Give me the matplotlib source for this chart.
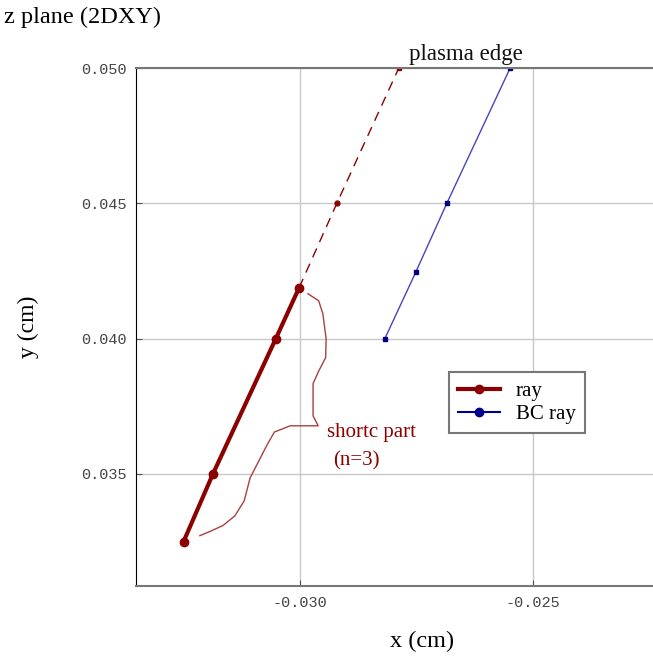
import matplotlib.pyplot as plt

# ray points (solid part, then the dashed part out to the plasma edge)
ray_x = [-0.0325, -0.03187, -0.03052, -0.03002]
ray_y = [0.0325, 0.0350, 0.0400, 0.04188]
ext_x = [-0.03002, -0.02921, -0.02788]
ext_y = [0.04188, 0.0450, 0.0500]

# BC ray
bc_x = [-0.02818, -0.02751, -0.02685, -0.02549]
bc_y = [0.0400, 0.04248, 0.0450, 0.0500]

# hand-drawn brace marking the short part
brace_x = [-0.02983, -0.02960, -0.02951, -0.02944, -0.02945, -0.02960, -0.02972,
           -0.02972, -0.02961, -0.03021, -0.03055, -0.03070, -0.03107,
           -0.03120, -0.03140, -0.03165, -0.03190, -0.03215]
brace_y = [0.04166, 0.04140, 0.04092, 0.04000, 0.03930, 0.03880, 0.03834,
           0.03715, 0.03678, 0.03678, 0.03655, 0.03610, 0.03486,
           0.03400, 0.03345, 0.03310, 0.03290, 0.03272]

xticks = [-0.030, -0.025]
yticks = [0.035, 0.040, 0.045, 0.050]

serif = 'Liberation Serif'
dred = '#8b0000'

f = plt.figure(figsize=(6.53, 6.56), dpi=100)
ax = f.add_axes([0.2083, 0.1067, 0.7963, 0.7896])

ax.set_xlim(-0.03352, -0.02236)
ax.set_ylim(0.03086, 0.050)
ax.set_xticks(xticks)
ax.set_yticks(yticks)
ax.set_xticklabels(['%.3f' % v for v in xticks])
ax.set_yticklabels(['%.3f' % v for v in yticks])
ax.tick_params(direction='in', length=4, colors='#555555', labelsize=11, pad=7)
for lab in ax.get_xticklabels() + ax.get_yticklabels():
    lab.set_family('Liberation Mono')
    lab.set_color('#444444')
ax.grid(True, color='#c8c8c8', linewidth=1)
ax.set_axisbelow(True)

ax.spines['right'].set_visible(False)
ax.spines['left'].set_color('black')
ax.spines['top'].set_color('#777777')
ax.spines['bottom'].set_color('#777777')
ax.spines['top'].set_linewidth(1.5)
ax.spines['bottom'].set_linewidth(1.5)

# plot
ax.plot(ext_x, ext_y, color=dred, linestyle=(0, (7, 5)), linewidth=1,
        marker='o', markersize=3.5, markevery=[1])
ax.plot(ext_x[-1:], ext_y[-1:], color=dred, marker='s', markersize=3, linewidth=0)
ax.plot(ray_x, ray_y, color=dred, linewidth=3, marker='o', markersize=6,
        label='ray')
ax.plot(bc_x, bc_y, color='#4646b8', linewidth=1, marker='s', markersize=3.5,
        markerfacecolor='#00007f', markeredgecolor='#00007f')
ax.plot([], [], color='#00008b', linewidth=1.5, marker='o', markersize=6,
        label='BC ray')
ax.plot(brace_x, brace_y, color='#a84040', linewidth=1)

ax.text(-0.02942, 0.03653, 'shortc part', family=serif, fontsize=15,
        color=dred, va='center')
ax.text(-0.02929, 0.03549, '(n=3)', family=serif, fontsize=15,
        color=dred, va='center')
ax.text(-0.02644, 0.0501, 'plasma edge', family=serif, fontsize=16.5,
        color='#111111', ha='center', va='bottom')

leg = ax.legend(loc='lower left', bbox_to_anchor=(0.602, 0.295),
                borderaxespad=0, prop={'family': serif, 'size': 15},
                fancybox=False, framealpha=1, edgecolor='#777777',
                borderpad=0.45, handlelength=2.0, labelspacing=0.15,
                handletextpad=0.75)
leg.get_frame().set_linewidth(1.5)

ax.set_xlabel('x (cm)', family=serif, fontsize=17.5)
ax.xaxis.set_label_coords(0.55, -0.087)
ax.set_ylabel('y (cm)', family=serif, fontsize=17, labelpad=30)
f.text(0.006, 0.973, 'z plane (2DXY)', family=serif, fontsize=17.5, va='center')

f.savefig('out.png', dpi=100)
